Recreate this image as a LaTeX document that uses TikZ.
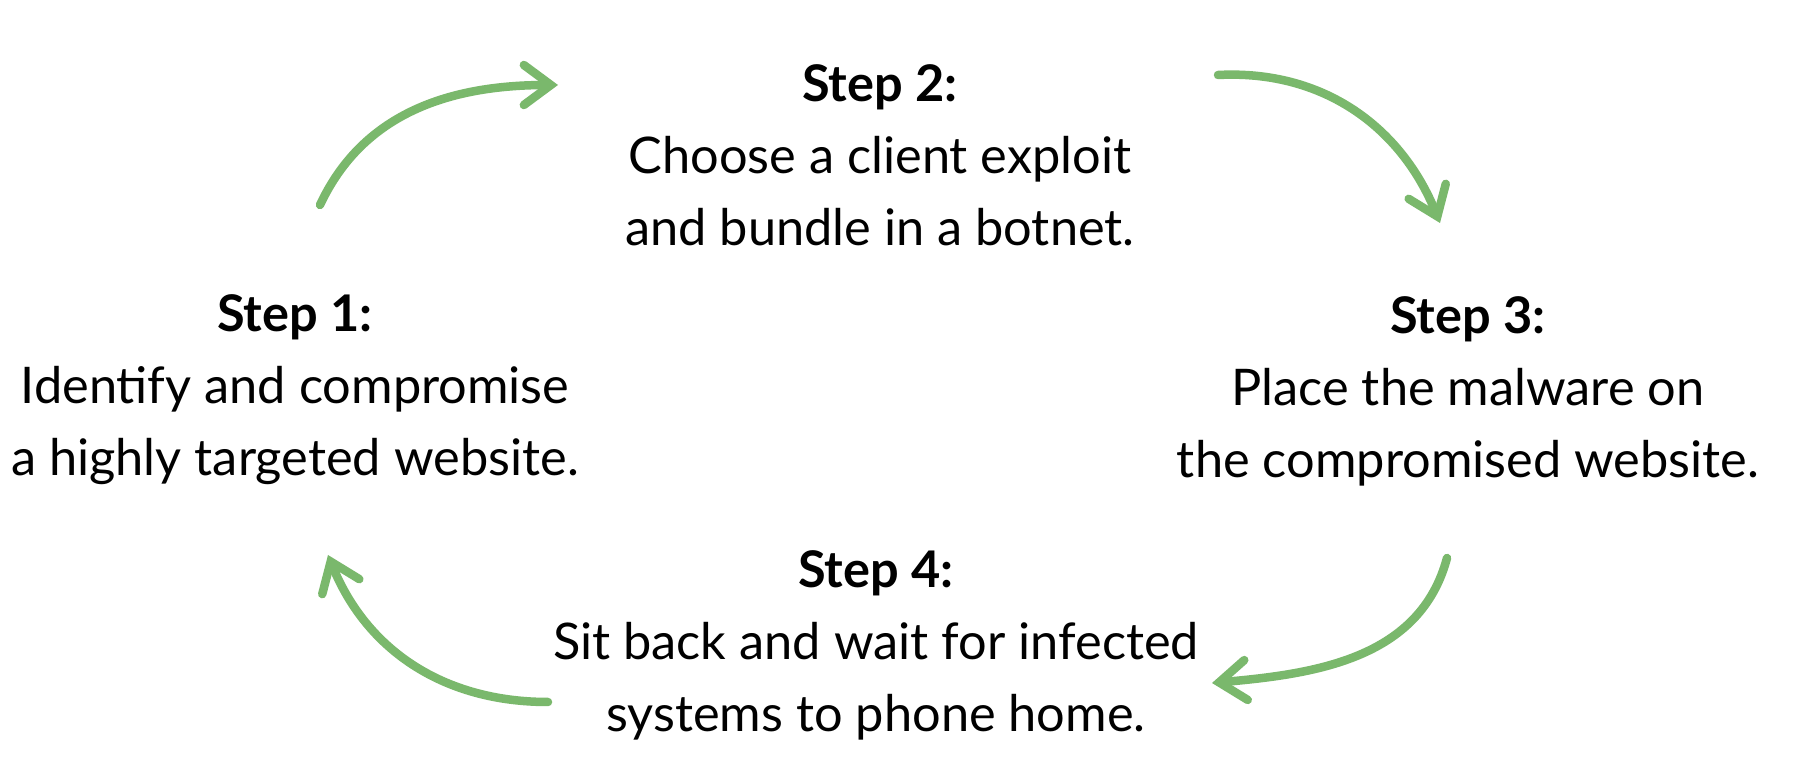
\documentclass[tikz,border=0pt]{standalone}
\usepackage{fontspec}
\setmainfont{Lato}
\usetikzlibrary{arrows.meta}
\definecolor{arrowgreen}{RGB}{122,184,108}
\tikzset{
  stepnode/.style={align=center, text=black, inner sep=0pt,
    font=\fontsize{50.5}{72}\selectfont},
  cyclearrow/.style={draw=arrowgreen, line width=8.5pt, line cap=round,
    -{Straight Barb[length=27pt, width=40pt, line width=8.5pt, line cap=round]}}
}
\begin{document}
\begin{tikzpicture}[x=1pt,y=1pt]
\useasboundingbox[fill=white] (0,0) rectangle (1815,771);
\node[stepnode] (s2) at (880,616) {\textbf{Step 2:}\\Choose a client exploit\\and bundle in a botnet.};
\node[stepnode] (s1) at (295,381) {\textbf{Step 1:}\\Identify and compromise\\a highly targeted website.};
\node[stepnode] (s3) at (1468,380) {\textbf{Step 3:}\\Place the malware on\\the compromised website.};
\node[stepnode] (s4) at (876,126) {\textbf{Step 4:}\\Sit back and wait for infected\\systems to phone home.};
\coordinate (a1s) at (320,566);
\coordinate (a1e) at (558,686);
\coordinate (a2s) at (1218,696);
\coordinate (a2e) at (1440,548);
\coordinate (a3s) at (1447,213);
\coordinate (a3e) at (1212,88);
\coordinate (a4s) at (548,69);
\coordinate (a4e) at (328,216);
\draw[cyclearrow] (a1s) to[out=65,in=180] (a1e);
\draw[cyclearrow] (a2s) to[out=3,in=112] (a2e);
\draw[cyclearrow] (a3s) to[out=-105,in=5] (a3e);
\draw[cyclearrow] (a4s) to[out=180,in=-68] (a4e);
\end{tikzpicture}
\end{document}
